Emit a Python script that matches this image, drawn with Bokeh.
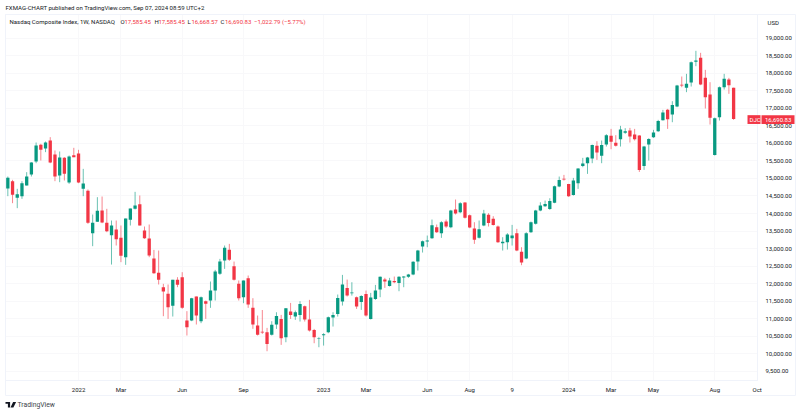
from bokeh.plotting import figure
from bokeh.models import FixedTicker, Range1d, NumeralTickFormatter
from bokeh.embed import file_html
from bokeh.resources import INLINE
from bokeh.core.properties import value

FONT = "Roboto"
GREEN = "#089981"
RED = "#F23645"
DARK = "#131722"
EDGE = "#f0f3fa"

# direction of each weekly candle: G closes above its open, R below
direction = ("GRGGGGGRGR" "RGRGRRGRGG" "RRGRRGGGRR" "RRRRRGRRRG" "RGRGGGGRRR"
             "GRRRRRGGRG" "RGGRRRGGGG" "GGRGRGRGGG" "RGRGGGGGGG" "GRGRGRGRRR"
             "GGRRRGGGRR" "GGGGGGGGRR" "GGGGGRGGRR" "GGRRRGGGGG" "RGGRGGGRRR"
             "GGGRR")
highs = [15054,14959,14703,14921,15178,15462,16023,15985,16052,16175,
         15795,15767,15605,15652,15871,15814,15272,14684,13971,14465,
         14484,14133,13800,13800,13658,13857,14142,14617,14513,13629,
         13686,12964,12945,11996,11977,12110,12186,12328,11217,11597,
         11635,11635,11521,12062,12394,12707,13088,13135,12631,12091,
         12091,12233,11587,11093,11250,10741,10931,11187,11111,11301,
         11453,11235,11501,11377,11539,10712,10475,10589,11064,11187,
         11691,12251,12118,12042,11634,11672,11805,11738,11966,12204,
         12166,12166,12204,12213,12213,12280,12641,12964,13230,13372,
         13828,13686,13781,13828,14104,14398,14322,14322,13971,13752,
         13800,14104,14009,13923,13657,13325,13439,13676,13562,13040,
         13467,13771,14104,14321,14369,14435,14796,15053,15100,14844,
         15015,15291,15585,15613,15965,16060,16079,16260,16411,16231,
         16497,16431,16440,16411,16231,15927,16145,16383,16668,16953,
         16981,17200,17665,17903,17979,18330,18635,18578,18093,17741,
         16734,17618,17979,17865,17585.45]
body_tops = [15016,14921,14551,14864,15054,15453,15938,15957,16023,16080,
             15681,15596,15586,15624,15662,15710,14855,14645,13734,14075,
             14085,13734,13658,13544,13306,13857,14142,14228,14266,13515,
             13287,12717,12310,11901,11711,12110,12110,12186,10951,11587,
             11635,11616,11502,11806,12347,12631,13021,12964,12498,11996,
             12091,12157,11312,10808,10628,10617,10827,11083,10997,11301,
             11207,11187,11425,11358,10979,10684,10456,10560,11045,11111,
             11596,11976,11881,11748,11615,11653,11710,11605,11805,12195,
             12118,12090,12080,12195,12204,12261,12622,12945,13211,13230,
             13667,13610,13752,13771,14085,14113,14294,14313,13952,13572,
             13553,13999,13961,13847,13629,13192,13401,13372,13439,12907,
             13439,13752,14085,14226,14274,14359,14777,14958,14987,14844,
             14939,15281,15424,15594,15955,15927,15955,16231,16212,16013,
             16393,16345,16364,16250,16222,15908,16126,16307,16639,16877,
             16953,17095,17646,17665,17694,18311,18359,18435,17865,17390,
             16715,17599,17837,17817,17585.45]
body_bottoms = [14712,14532,14446,14494,14798,15111,15482,15814,15852,15453,
                15054,15083,15130,14883,15605,14883,14703,13734,13439,13762,
                13743,13496,13382,13268,12793,12755,13819,14133,13658,13297,
                12803,12300,12110,11777,11331,11369,11967,11312,10761,10951,
                11093,10932,11426,11521,11806,12281,12660,12679,12110,11587,
                11616,11407,10837,10542,10609,10285,10542,10836,10447,10475,
                11111,11064,11111,10979,10665,10475,10437,10532,10617,11035,
                11140,11491,11662,11729,11349,11482,11092,10997,11567,11834,
                12061,11938,12042,12023,12175,12195,12261,12631,13059,13201,
                13297,13467,13439,13629,13610,13999,14037,13876,13600,13249,
                13306,13657,13733,13676,13182,13154,13182,13296,12945,12603,
                12717,13467,13705,14084,14207,14131,14303,14768,14968,14492,
                14530,14863,15357,15433,15566,15737,15642,15965,16041,15927,
                16117,16298,16193,16117,15243,15357,15965,16174,16345,16658,
                16687,16820,17048,17646,17580,17732,18321,17675,17314,16725,
                15670,16744,17599,17656,16690.83]
lows = [14494,14294,14152,14418,14798,15054,15434,15510,15748,15434,
        14921,14892,14940,14845,15605,14864,14494,13705,13069,13762,
        13724,13468,12546,13088,12613,12537,13658,14114,13658,13278,
        12755,12281,11977,11074,10998,11065,11901,11284,10524,10932,
        10837,10875,10998,11312,11521,12252,12422,12650,12090,11521,
        11445,11312,10714,10524,10570,10076,10523,10712,10257,10332,
        10997,10969,10922,10922,10637,10304,10190,10237,10589,10779,
        11064,11377,11634,11662,11282,11254,11064,10979,11539,11615,
        11881,11919,12014,11786,11900,12166,12242,12375,12888,13040,
        13278,13448,13306,13591,13581,13971,14009,13857,13581,13135,
        13287,13638,13629,13657,13163,12945,12973,13087,12926,12527,
        12698,13448,13686,14065,14188,14103,14293,14749,14939,14473,
        14511,14701,15319,15129,15433,15528,15433,15908,15832,15908,
        15908,16269,16022,16079,15186,15243,15509,16155,16326,16649,
        16411,16601,17029,17599,17457,17618,18197,17656,16991,16535,
        15651,16649,17532,17409,16668.57]
last_close = 16690.83

time_labels = ["2022","Mar","Jun","Sep","2023","Mar","Jun","Aug","9","2024","Mar","May","Aug","Oct"]
time_weeks = [15,24,37,50,67,76,89,98,107,119,128,137,150,159]
price_ticks = [9500 + 500*k for k in range(20)]

title_text = "FXMAG-CHART published on TradingView.com, Sep 07, 2024 08:59 UTC+2"
symbol_text = "Nasdaq Composite Index, 1W, NASDAQ"
ohlc_parts = [("O",120),("17,585.45",124),("H",154),("17,585.45",158),("L",187),("16,668.57",191),
              ("C",220),("16,690.83",224.5),("\u22121,022.79 (\u22125.77%)",253.5)]

W, H = 800, 413
FL, FR, FT, FB = 5, 757, 14, 380   # frame edges in canvas pixels
X0, X1, Y0, Y1 = -0.495, 159.07, 9242, 19670
p = figure(width=W, height=H, output_backend="svg", toolbar_location=None,
           x_axis_location="below", y_axis_location="right",
           x_range=Range1d(X0, X1), y_range=Range1d(Y0, Y1),
           min_border_left=FL, min_border_right=W - FR, min_border_top=FT, min_border_bottom=H - FB,
           margin=(0, 0, 0, 0))
p.outline_line_color = EDGE
p.background_fill_color = "#ffffff"
p.border_fill_color = "#ffffff"

# page positions of the texts around the chart, turned into the chart's scale
def sx(px):
    return X0 + (px - FL) * (X1 - X0) / (FR - FL)
def sy(py):
    return Y1 - (py - FT) * (Y1 - Y0) / (FB - FT)
def y_h(dy):
    return dy * (Y1 - Y0) / (FB - FT)

xs = list(range(len(highs)))
colors = [GREEN if d == "G" else RED for d in direction]
assert len(highs) == len(lows) == len(body_tops) == len(body_bottoms) == len(direction)
p.segment(xs, highs, xs, lows, color=colors, line_width=1, line_alpha=0.6)
p.vbar(x=xs, top=body_tops, bottom=body_bottoms, width=0.7, fill_color=colors, line_color=None)

p.xaxis.ticker = FixedTicker(ticks=time_weeks)
p.xaxis.major_label_overrides = dict(zip(time_weeks, time_labels))
p.yaxis.ticker = FixedTicker(ticks=price_ticks)
p.yaxis.formatter = NumeralTickFormatter(format="0,0.00")
for ax in (p.xaxis, p.yaxis):
    ax.major_tick_line_color = None
    ax.minor_tick_line_color = None
    ax.major_tick_out = 0
    ax.major_tick_in = 0
    ax.axis_line_color = EDGE
    ax.major_label_text_font = FONT
    ax.major_label_text_font_size = "6px"
    ax.major_label_text_color = DARK
p.yaxis.major_label_standoff = 8
p.xaxis.major_label_standoff = 5
p.xgrid.ticker = FixedTicker(ticks=time_weeks)
p.ygrid.ticker = FixedTicker(ticks=price_ticks)
p.grid.grid_line_color = "#f8f8fa"

def txt(x, y, s, color=DARK, size="6.1px"):
    p.text([sx(x)], [sy(y)], text=[s], text_color=color, text_font=value(FONT), text_font_size=size,
           text_baseline="middle", level="overlay")

txt(5, 7, title_text, size="6.05px")
txt(9, 21, symbol_text, size="6.05px")
for s, x in ohlc_parts:
    txt(x, 21, s, color=DARK if len(s) == 1 else RED, size="6px")
txt(17, 404, "TradingView", color="#3b3f4a", size="6.8px")
txt(767, 22, "USD", size="6px")

# outer frame around chart and axes
p.quad(left=[sx(5)], right=[sx(795)], top=[sy(14)], bottom=[sy(395)], fill_color=None, line_color=EDGE, level="overlay")

# price tag on the right axis
for l, r in ((747, 760), (761, 794)):
    p.quad(left=[sx(l)], right=[sx(r)], top=[last_close + y_h(3.9)], bottom=[last_close - y_h(4.9)],
           fill_color=RED, line_color=None, level="overlay")
for s, x in (("DJC", 749), (f"{last_close:,.2f}", 764.5)):
    p.text([sx(x)], [last_close - y_h(0.5)], text=[s], text_color="#ffffff", text_font=value(FONT), text_font_size="6px",
           text_baseline="middle", level="overlay")

# TradingView mark
for mx, my in (([5, 9.6, 9.6, 7.4, 7.4, 5], [401.5, 401.5, 407, 407, 403.3, 403.3]),
               ([12.6, 15.6, 12.9, 10], [401.5, 401.5, 407, 407])):
    p.patch([sx(v) for v in mx], [sy(v) for v in my], fill_color=DARK, line_color=None, level="overlay")
p.scatter([sx(11.1)], [sy(402.4)], size=2.2, color=DARK, level="overlay")

open("out.html", "w").write(file_html(p, INLINE))
